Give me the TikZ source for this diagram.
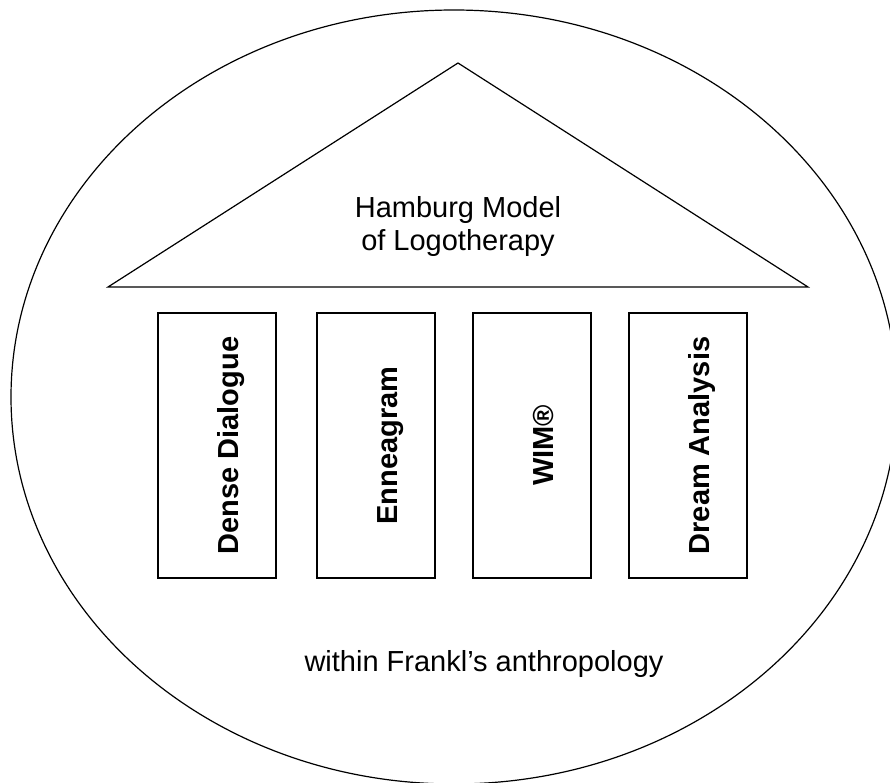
\documentclass[tikz,border=0pt]{standalone}
\usepackage{fontspec}
\setmainfont{Liberation Sans}
\usetikzlibrary{positioning}

\begin{document}
\begin{tikzpicture}[x=1pt, y=-1pt, line width=1.2pt,
    pillar/.style={draw, minimum width=118pt, minimum height=265pt, inner sep=0pt},
    pillarlabel/.style={rotate=90, anchor=base, font=\fontsize{29}{33}\selectfont\bfseries},
    plaintext/.style={font=\fontsize{29}{33}\selectfont, align=center}]

    \useasboundingbox (0,0) rectangle (890,783);
    \clip (0,0) rectangle (890,783);

    \coordinate (A) at (458, 63);
    \coordinate (L) at (108, 287);
    \coordinate (R) at (808, 287);
    \coordinate (O) at (454, 397);

    % outer frame and roof
    \draw (O) ellipse [x radius=443pt, y radius=387pt];
    \draw (L) -- (A) -- (R) -- cycle;

    \node[plaintext] (roof) at (458, 227) {Hamburg Model\\of Logotherapy};

    % pillars
    \node[pillar] (dense) at (217, 445.5) {};
    \node[pillar] (ennea) at (376, 445.5) {};
    \node[pillar] (wim) at (532, 445.5) {};
    \node[pillar] (dream) at (688, 445.5) {};

    \node[pillarlabel] at ([xshift=-38pt]dense.east) {Dense Dialogue};
    \node[pillarlabel] at ([xshift=-38pt]ennea.east) {Enneagram};
    \node[pillarlabel] at ([xshift=-38pt]wim.east) {WIM®};
    \node[pillarlabel] at ([xshift=-38pt]dream.east) {Dream Analysis};

    \node[plaintext] (base) at (484, 664) {within Frankl’s anthropology};

\end{tikzpicture}
\end{document}
